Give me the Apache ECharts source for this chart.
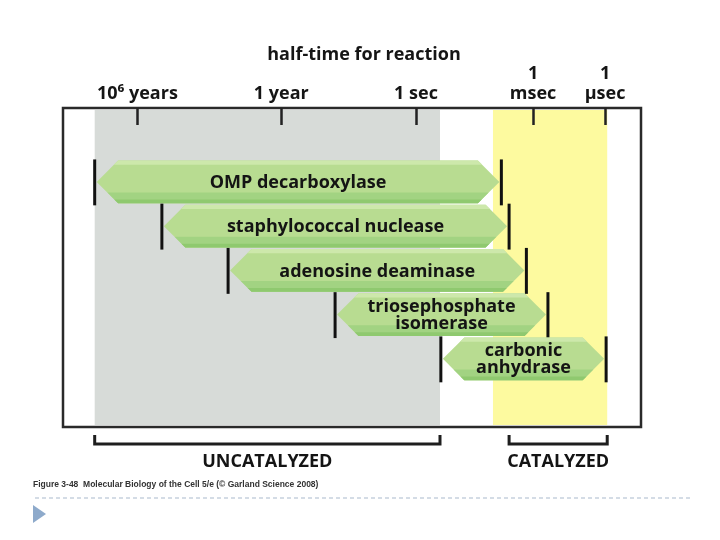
<!DOCTYPE html>
<html>
<head>
<meta charset="utf-8">
<script src="https://cdn.jsdelivr.net/npm/echarts@6/dist/echarts.min.js"></script>
<style>
html,body{margin:0;padding:0;background:#fff;}
#chart{width:720px;height:540px;}
</style>
</head>
<body>
<div id="chart"></div>
<script>
// ---- data (half-times in seconds) ----
var enzymes = ['OMP decarboxylase', 'staphylococcal nuclease', 'adenosine deaminase', 'triosephosphate\nisomerase', 'carbonic\nanhydrase'];
var uncatalyzedSec = [1.9e15, 3.0e12, 5.2e9, 1.8e5, 7];
var catalyzedSec = [0.021, 0.010, 0.0019, 0.00024, 9e-7];

// tick labels and where the figure places them (seconds)
var tickLabels = ['10\u2076 years', '1 year', '1 sec', '1\nmsec', '1\n\u00B5sec'];
var tickSec = [3.156e13, 3.156e7, 76, 1e-3, 1e-6];

// shaded ranges (seconds)
var uncatalyzedZone = [1.9e15, 7.6];
var catalyzedZone = [0.047, 8.1e-7];
var uncatalyzedBracket = [1.9e15, 7.6];
var catalyzedBracket = [0.010, 8.1e-7];
var bracketLabels = ['UNCATALYZED', 'CATALYZED'];

var L = Math.log10;
var tickVals = tickSec.map(L);

var barData = enzymes.map(function (n, i) {
  return { value: [L(uncatalyzedSec[i]), L(catalyzedSec[i]), i], name: n };
});
var zoneData = [
  { value: [L(uncatalyzedZone[0]), L(uncatalyzedZone[1])], itemStyle: { color: '#d7dbd8' } },
  { value: [L(catalyzedZone[0]), L(catalyzedZone[1])], itemStyle: { color: '#fdfa9f' } }
];
var bracketData = [
  { value: [L(uncatalyzedBracket[0]), L(uncatalyzedBracket[1])], name: bracketLabels[0] },
  { value: [L(catalyzedBracket[0]), L(catalyzedBracket[1])], name: bracketLabels[1] }
];

var FONT = "'Open Sans', 'DejaVu Sans', sans-serif";
var chart = echarts.init(document.getElementById('chart'));

chart.setOption({
  animation: false,
  title: {
    text: 'half-time for reaction',
    left: 359, top: 41, textAlign: 'center',
    textStyle: { fontFamily: FONT, fontWeight: 'bold', fontSize: 18, color: '#151515' }
  },
  grid: {
    left: 63, right: 79, top: 108, bottom: 113,
    show: true, borderColor: '#2a2a2a', borderWidth: 2.5, backgroundColor: 'transparent'
  },
  xAxis: {
    type: 'value', position: 'top', inverse: true, min: -7.5, max: 16.6, z: 10,
    axisLine: { show: false, onZero: false },
    splitLine: { show: false },
    axisTick: { show: true, inside: true, length: 17, customValues: tickVals,
      lineStyle: { color: '#222', width: 2.5 } },
    axisLabel: {
      customValues: tickVals, margin: 4,
      fontFamily: FONT, fontWeight: 'bold', fontSize: 18, color: '#151515', lineHeight: 20,
      formatter: function (v) {
        for (var i = 0; i < tickVals.length; i++) if (Math.abs(tickVals[i] - v) < 1e-6) return tickLabels[i];
        return '';
      }
    }
  },
  yAxis: { type: 'value', inverse: true, min: -1.67, max: 5.54, show: false },
  series: [
    {
      type: 'custom', name: 'zones', z: 1, silent: true,
      data: zoneData,
      renderItem: function (params, api) {
        var cs = params.coordSys;
        var a = api.coord([api.value(0), 0])[0];
        var b = api.coord([api.value(1), 0])[0];
        return { type: 'rect', shape: { x: Math.min(a, b), y: cs.y + 2, width: Math.abs(b - a), height: cs.height - 4 },
          style: { fill: api.visual('color') } };
      }
    },
    {
      type: 'custom', name: 'enzymes', z: 3, silent: true,
      data: barData,
      renderItem: function (params, api) {
        var p1 = api.coord([api.value(0), api.value(2)]);
        var p2 = api.coord([api.value(1), api.value(2)]);
        var l = Math.min(p1[0], p2[0]), r = Math.max(p1[0], p2[0]);
        var yc = p1[1];
        var hh = api.size([0, 1])[1] * 0.485;
        var d = hh;
        var lt = l + 2, rt = r - 2;
        var hex = [[lt, yc], [lt + d, yc - hh], [rt - d, yc - hh], [rt, yc], [rt - d, yc + hh], [lt + d, yc + hh]];
        var k = 0.5;
        var bottom = [[lt + d * k, yc + hh * k], [rt - d * k, yc + hh * k], [rt - d, yc + hh], [lt + d, yc + hh]];
        var k2 = 0.82;
        var bottom2 = [[lt + d * k2, yc + hh * k2], [rt - d * k2, yc + hh * k2], [rt - d, yc + hh], [lt + d, yc + hh]];
        var kt = 0.8;
        var top = [[lt + d, yc - hh], [rt - d, yc - hh], [rt - d * kt, yc - hh * kt], [lt + d * kt, yc - hh * kt]];
        var name = enzymes[api.value(2)];
        return {
          type: 'group',
          children: [
            { type: 'polygon', shape: { points: hex }, style: { fill: '#b8dc91' } },
            { type: 'polygon', shape: { points: top }, style: { fill: '#cde8ab' } },
            { type: 'polygon', shape: { points: bottom }, style: { fill: '#a2d382' } },
            { type: 'polygon', shape: { points: bottom2 }, style: { fill: '#8fc96f' } },
            { type: 'line', shape: { x1: l, y1: yc - hh - 1, x2: l, y2: yc + hh + 2 }, style: { stroke: '#111', lineWidth: 3 } },
            { type: 'line', shape: { x1: r, y1: yc - hh - 1, x2: r, y2: yc + hh + 2 }, style: { stroke: '#111', lineWidth: 3 } },
            { type: 'text', x: (l + r) / 2, y: yc + 1,
              style: { text: name, fontFamily: FONT, fontWeight: 'bold', fontSize: 18, lineHeight: 17,
                fill: '#141414', align: 'center', verticalAlign: 'middle' } }
          ]
        };
      }
    },
    {
      type: 'custom', name: 'brackets', z: 3, silent: true, clip: false,
      data: bracketData,
      renderItem: function (params, api) {
        var cs = params.coordSys;
        var a = api.coord([api.value(0), 0])[0];
        var b = api.coord([api.value(1), 0])[0];
        var l = Math.min(a, b), r = Math.max(a, b);
        var yb = cs.y + cs.height;
        var y1 = yb + 8, y2 = yb + 17;
        return {
          type: 'group',
          children: [
            { type: 'polyline', shape: { points: [[l, y1], [l, y2], [r, y2], [r, y1]] },
              style: { stroke: '#1e1e1e', lineWidth: 3, fill: null } },
            { type: 'text', x: (l + r) / 2, y: yb + 35,
              style: { text: bracketLabels[params.dataIndex], fontFamily: FONT, fontWeight: 'bold', fontSize: 18,
                fill: '#141414', align: 'center', verticalAlign: 'middle' } }
          ]
        };
      }
    }
  ],
  graphic: [
    { type: 'text', left: 33, top: 480,
      style: { text: 'Figure 3-48  Molecular Biology of the Cell 5/e (\u00A9 Garland Science 2008)',
        fontFamily: "'Liberation Sans', sans-serif", fontSize: 8.5, fontWeight: 'bold', fill: '#333' } },
    { type: 'line', shape: { x1: 35, y1: 498, x2: 690, y2: 498 },
      style: { stroke: '#a9b9cc', lineWidth: 1, lineDash: [4, 3] } },
    { type: 'polygon', shape: { points: [[33, 505], [33, 523], [46, 514]] }, style: { fill: '#8eaacb' } }
  ]
});
</script>
</body>
</html>
